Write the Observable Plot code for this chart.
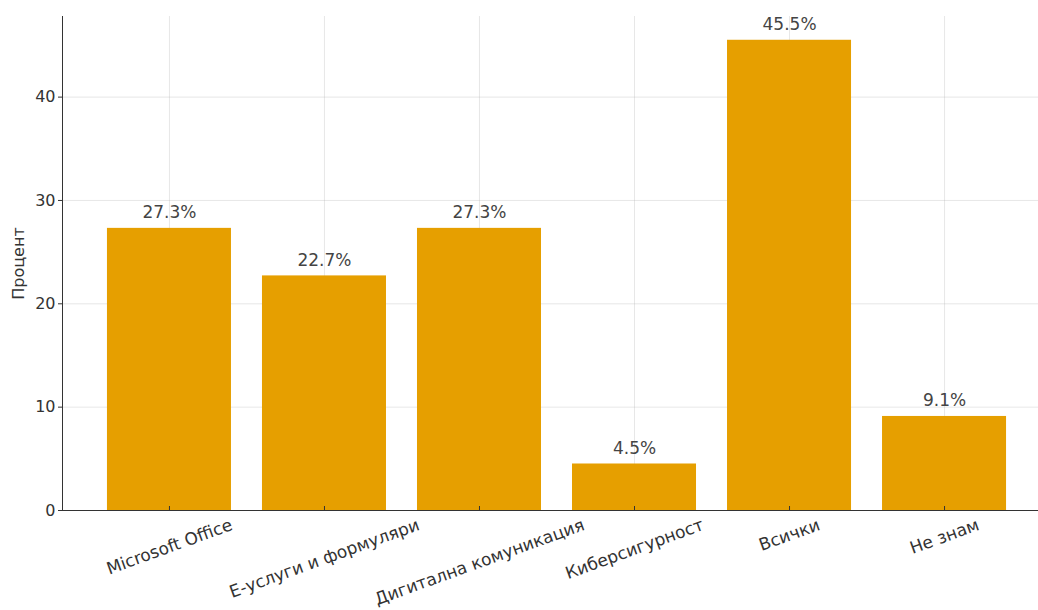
<!DOCTYPE html>
<html>
<head>
<meta charset="utf-8">
<script src="https://cdn.jsdelivr.net/npm/d3@7"></script>
<script src="https://cdn.jsdelivr.net/npm/@observablehq/plot@0.6"></script>
<style>
  html, body { margin: 0; padding: 0; background: #fff; overflow: hidden; }
  svg { display: block; }
</style>
</head>
<body>
<div id="chart"></div>
<script>
const categories = ["Microsoft Office", "Е-услуги и формуляри", "Дигитална комуникация", "Киберсигурност", "Всички", "Не знам"];
const percents = [27.3, 22.7, 27.3, 4.5, 45.5, 9.1];
const yTicks = [0, 10, 20, 30, 40];
const yLabel = "Процент";

const data = categories.map((c, i) => ({category: c, value: percents[i]}));

const FONT = "DejaVu Sans, sans-serif";
const xFontSize = 17;
const ctx = document.createElement("canvas").getContext("2d");
ctx.font = `${xFontSize}px DejaVu Sans`;
const rad = 20 * Math.PI / 180;
const lineH = xFontSize * 1.1;

const xLabelMarks = categories.map(c => {
  const w = ctx.measureText(c).width;
  const dy = 5 + (w * Math.sin(rad) + lineH * Math.cos(rad)) / 2;
  return Plot.text([c], {
    x: d => d, frameAnchor: "bottom", dy, rotate: -20,
    textAnchor: "middle", lineAnchor: "middle",
    fontSize: xFontSize, fill: "#333"
  });
});

const chart = Plot.plot({
  width: 1038,
  height: 610,
  marginTop: 16,
  marginLeft: 62,
  marginRight: 0,
  marginBottom: 100,
  style: {fontFamily: FONT, fontSize: "16px", color: "#333", background: "#fff"},
  x: {domain: categories, range: [62, 1051], paddingInner: 0.2, paddingOuter: 0.29, round: false, axis: null},
  y: {domain: [0, 47.8], axis: null},
  marks: [
    Plot.gridY(yTicks, {stroke: "#b0b0b0", strokeOpacity: 0.3}),
    Plot.ruleX(categories, {x: d => d, stroke: "#b0b0b0", strokeOpacity: 0.3}),
    Plot.barY(data, {x: "category", y: "value", fill: "#E69F00"}),
    Plot.text(data, {x: "category", y: "value", text: d => d.value.toFixed(1) + "%",
      dy: -10, lineAnchor: "bottom", fontSize: 17, fill: "#444"}),
    Plot.axisY({ticks: yTicks, tickSize: 4, tickPadding: 3, fontSize: 16, label: null, stroke: "#333", color: "#333"}),
    Plot.axisX({tickSize: -4, tickFormat: () => "", label: null, stroke: "#333"}),
    Plot.frame({anchor: "left", stroke: "#333"}),
    Plot.frame({anchor: "bottom", stroke: "#333"}),
    Plot.text([yLabel], {frameAnchor: "left", dx: -44, rotate: -90, textAnchor: "middle", fontSize: 16, fill: "#333"}),
    ...xLabelMarks
  ]
});
document.getElementById("chart").appendChild(chart);
</script>
</body>
</html>
